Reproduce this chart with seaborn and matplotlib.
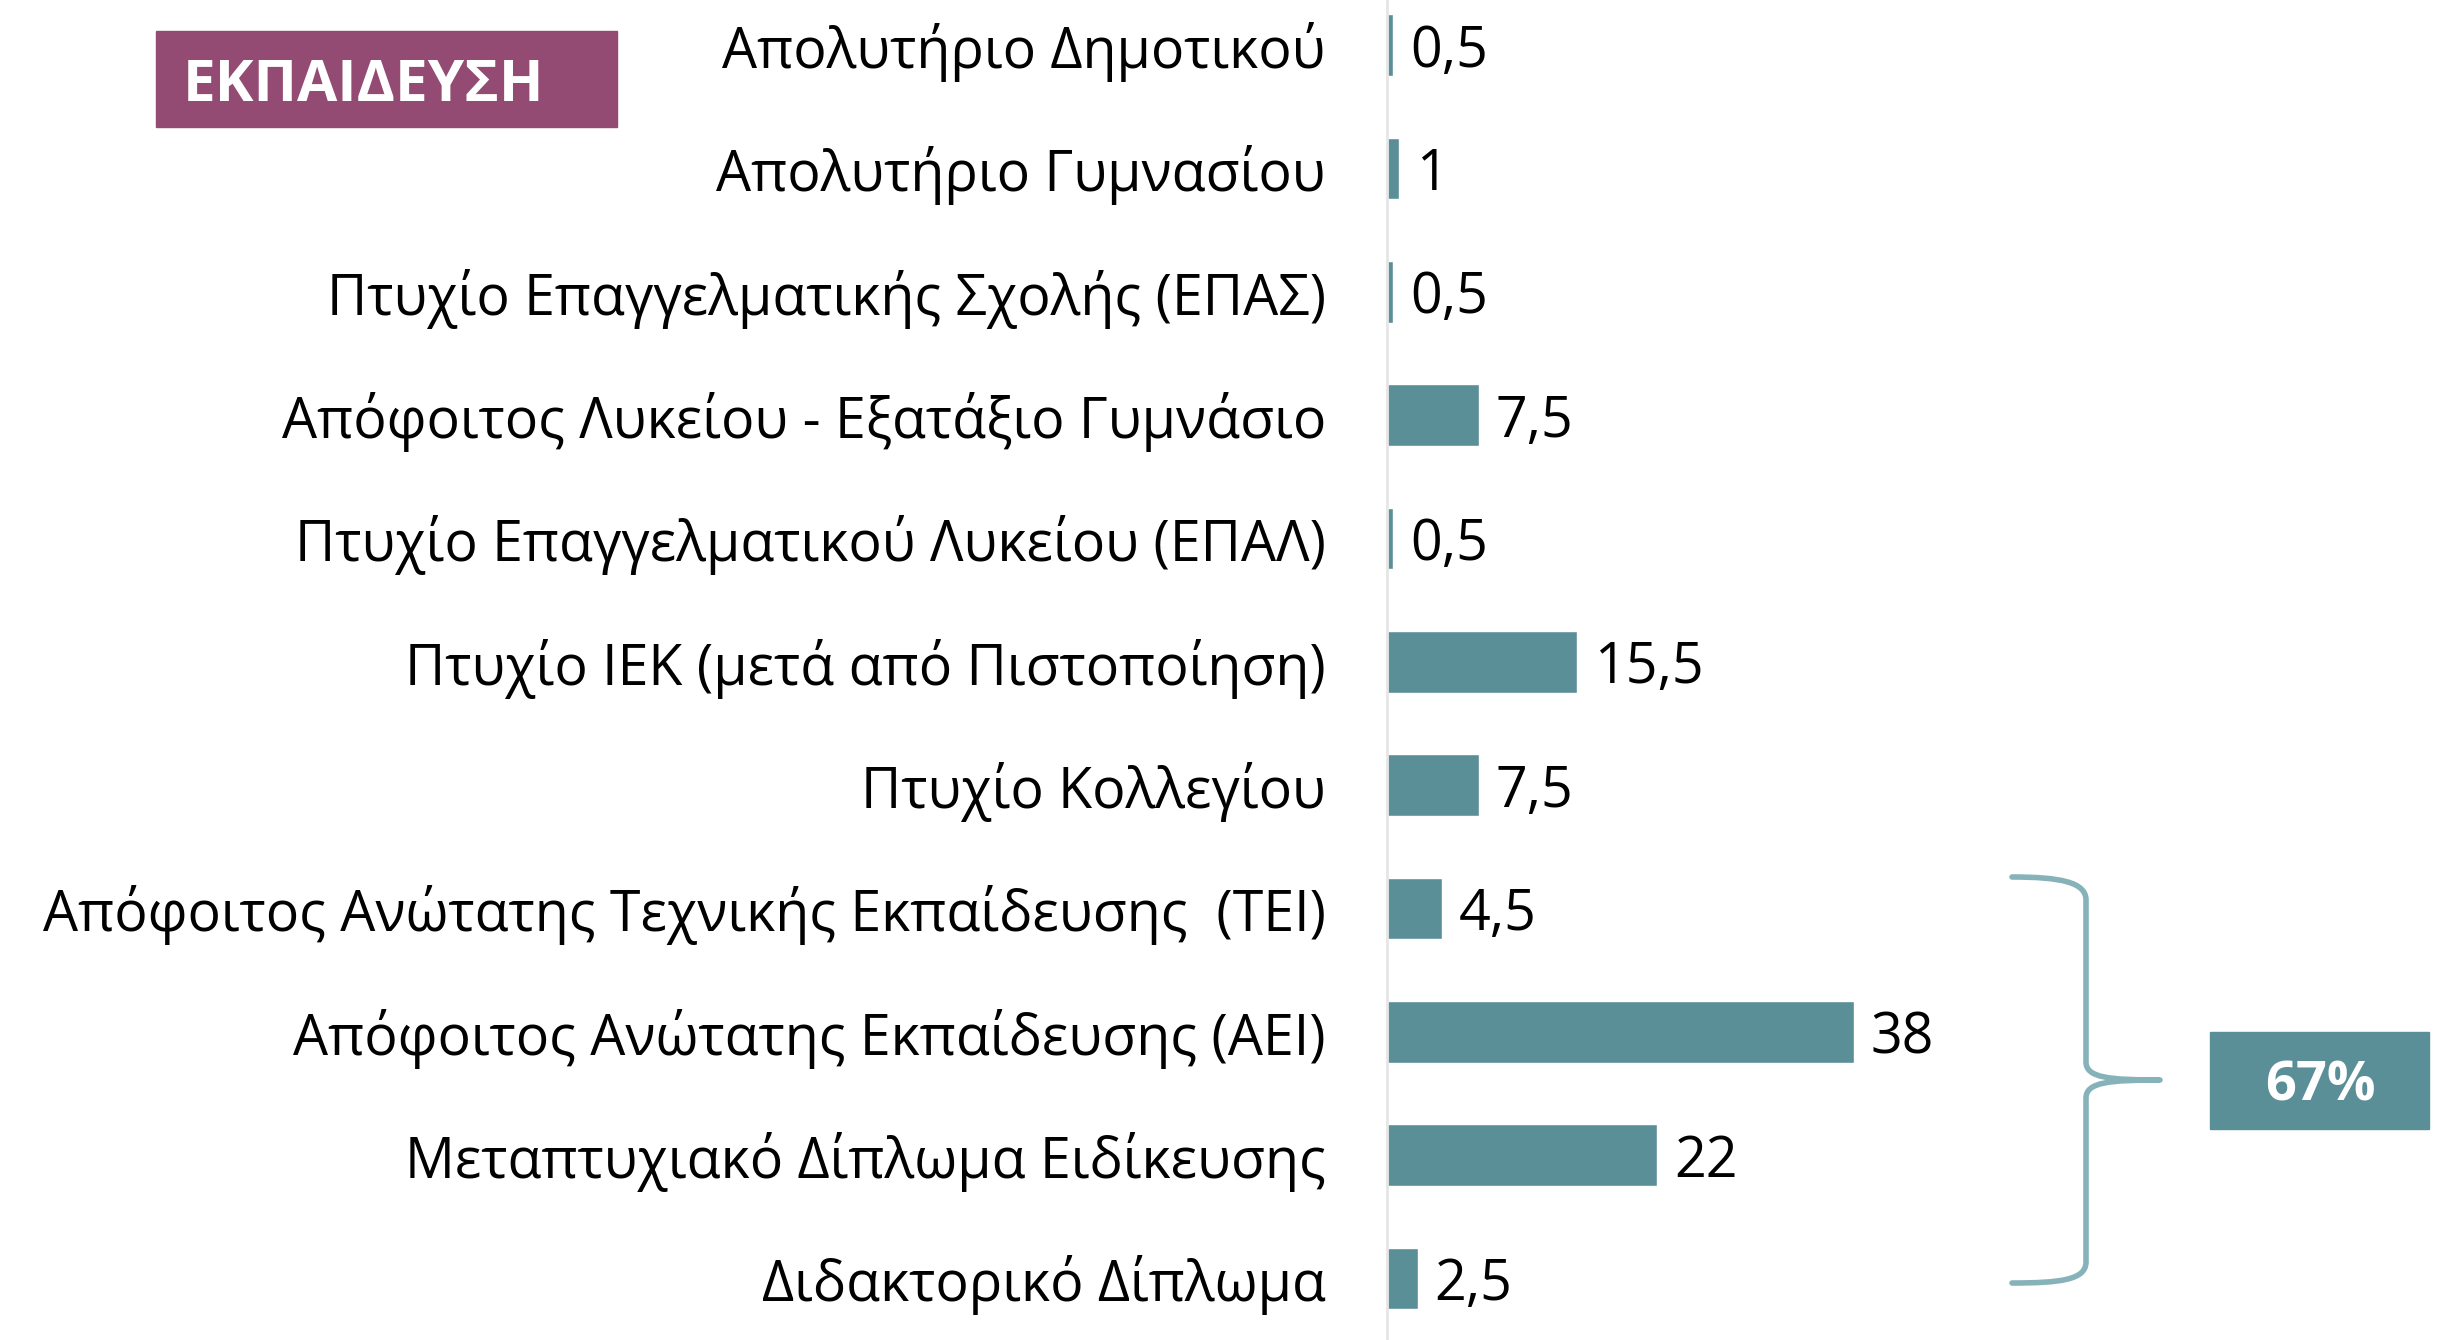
import pandas as pd
import matplotlib.pyplot as plt
import seaborn as sns
from matplotlib.path import Path
from matplotlib.patches import PathPatch, Rectangle

# datos del grafico
categorias = ["Απολυτήριο Δημοτικού",
              "Απολυτήριο Γυμνασίου",
              "Πτυχίο Επαγγελματικής Σχολής (ΕΠΑΣ)",
              "Απόφοιτος Λυκείου - Εξατάξιο Γυμνάσιο",
              "Πτυχίο Επαγγελματικού Λυκείου (ΕΠΑΛ)",
              "Πτυχίο ΙΕΚ (μετά από Πιστοποίηση)",
              "Πτυχίο Κολλεγίου",
              "Απόφοιτος Ανώτατης Τεχνικής Εκπαίδευσης  (ΤΕΙ)",
              "Απόφοιτος Ανώτατης Εκπαίδευσης (ΑΕΙ)",
              "Μεταπτυχιακό Δίπλωμα Ειδίκευσης",
              "Διδακτορικό Δίπλωμα"]
valores = [0.5, 1, 0.5, 7.5, 0.5, 15.5, 7.5, 4.5, 38, 22, 2.5]
titulo = "ΕΚΠΑΙΔΕΥΣΗ"
total = "67%"

W, H = 2461, 1340
color_barra = "#5B8F98"
color_llave = "#86B3BA"
color_titulo = "#934B73"
gris = "#E6E6E6"

sns.set_style("white")
plt.rcParams["font.family"] = ["Open Sans", "DejaVu Sans"]

df = pd.DataFrame({"categoria": categorias, "valor": valores})

fig = plt.figure(figsize=(W / 100, H / 100), dpi=100)
ax = fig.add_axes([1387 / W, 0, 1074 / W, 1356.6 / H])

sns.barplot(data=df, x="valor", y="categoria", orient="h", color=color_barra,
            width=0.5, saturation=1, ax=ax)

ax.set_xlim(0, 1074 / 12.28)
ax.set_ylim(len(categorias) - 0.5, -0.5)
ax.set_xlabel("")
ax.set_ylabel("")
ax.set_xticks([])

for s in ["top", "right", "bottom"]:
    ax.spines[s].set_visible(False)
ax.spines["left"].set_color(gris)
ax.spines["left"].set_linewidth(2)

ax.tick_params(axis="y", which="major", length=0, pad=44, labelsize=40,
               labelcolor="black")
ax.set_yticks([i + 0.5 for i in range(-1, len(categorias))], minor=True)
ax.tick_params(axis="y", which="minor", length=14.5, width=2, color=gris)

def etiqueta(v):
    if v == int(v):
        return str(int(v))
    return str(v).replace(".", ",")

textos = ax.bar_label(ax.containers[0], labels=[etiqueta(v) for v in valores],
                      padding=12, fontsize=40, color="black")
for t in textos:
    t.set_va("center_baseline")

# recuadro del titulo
fig.patches.append(Rectangle((155.7 / W, 1 - 127 / H), 461 / W, 96 / H,
                             transform=fig.transFigure, color=color_titulo))
fig.text(363 / W, 1 - 79 / H, titulo, color="white", fontsize=42,
         fontweight="bold", ha="center", va="center_baseline")

# recuadro 67%
fig.patches.append(Rectangle((2210 / W, 1 - 1129 / H), 219 / W, 97 / H,
                             transform=fig.transFigure, color=color_barra))
fig.text(2320 / W, 1 - 1080 / H, total, color="white", fontsize=39,
         fontweight="bold", ha="center", va="center_baseline")

# llave
pts = [(2012, 877), (2060, 877), (2086, 882), (2086, 900),
       (2086, 1062),
       (2086, 1078), (2110, 1080), (2160, 1080),
       (2110, 1080), (2086, 1082), (2086, 1098),
       (2086, 1262),
       (2086, 1280), (2060, 1283), (2012, 1283)]
codes = [Path.MOVETO, Path.CURVE4, Path.CURVE4, Path.CURVE4,
         Path.LINETO,
         Path.CURVE4, Path.CURVE4, Path.CURVE4,
         Path.CURVE4, Path.CURVE4, Path.CURVE4,
         Path.LINETO,
         Path.CURVE4, Path.CURVE4, Path.CURVE4]
llave = Path([(x / W, 1 - y / H) for x, y in pts], codes)
fig.patches.append(PathPatch(llave, transform=fig.transFigure, fill=False,
                             edgecolor=color_llave, linewidth=4,
                             capstyle="round", joinstyle="round"))

fig.savefig("out.png", dpi=100)
